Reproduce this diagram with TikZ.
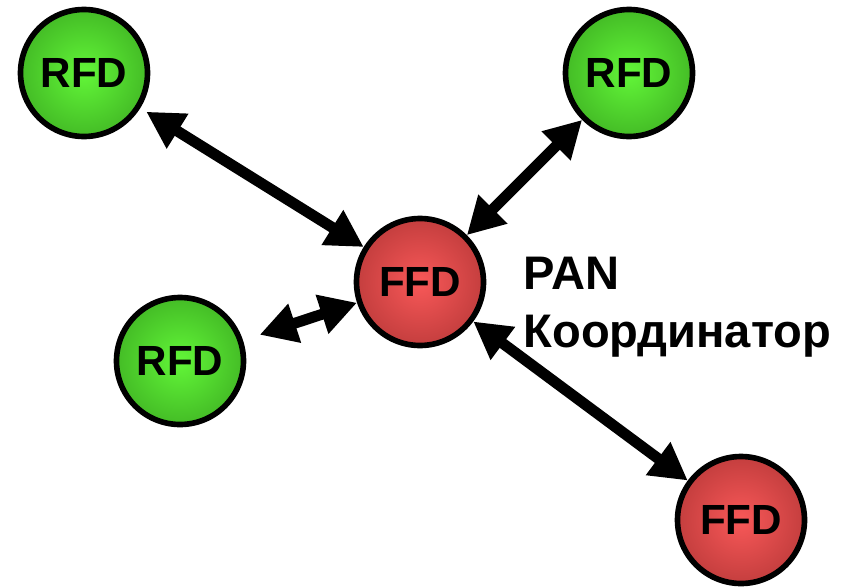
\documentclass[tikz,border=0pt]{standalone}
\usepackage{fontspec}
\setmainfont{Liberation Sans}
\usetikzlibrary{arrows.meta}
\definecolor{gin}{RGB}{98,246,56}
\definecolor{gout}{RGB}{68,188,38}
\definecolor{rin}{RGB}{248,88,88}
\definecolor{rout}{RGB}{196,62,62}
\tikzset{
  dev/.style={circle, draw=black, line width=1.6pt, minimum size=1.27cm, inner sep=0pt,
    font=\fontsize{12}{14}\selectfont\bfseries},
  rfd/.style={dev, inner color=gin, outer color=gout},
  ffd/.style={dev, inner color=rin, outer color=rout},
  link/.style={line width=3.1pt, {Triangle[length=10.5pt,width=11pt]}-{Triangle[length=10.5pt,width=11pt]}},
  lbl/.style={font=\fontsize{13.4}{16.5}\selectfont\bfseries, align=left, inner sep=0pt}
}
\begin{document}
\begin{tikzpicture}
\useasboundingbox (0,0) rectangle (8.46,-5.86);
\node[rfd] (r1) at (0.84,-0.73) {RFD};
\node[rfd] (r2) at (6.29,-0.73) {RFD};
\node[ffd] (c) at (4.20,-2.82) {FFD};
\node[rfd] (r3) at (1.80,-3.61) {RFD};
\node[ffd] (f2) at (7.41,-5.20) {FFD};
\node[lbl, anchor=base west] (t) at (5.23,-3.47) {PAN\\Координатор};
\draw[link, shorten <=2pt] (r1) -- (c);
\draw[link] (r2) -- (c);
\draw[link, shorten <=5pt] (r3) -- (c);
\draw[link] (c) -- (f2);
\end{tikzpicture}
\end{document}
